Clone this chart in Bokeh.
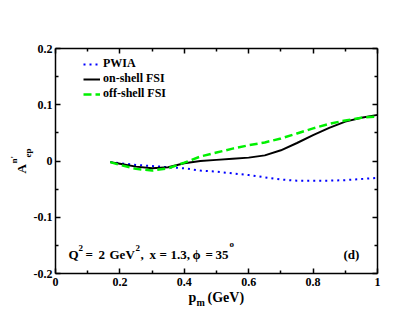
from bokeh.plotting import figure
from bokeh.models import Range1d, LinearAxis, FixedTicker, Label, Legend, LegendItem
from bokeh.embed import file_html
from bokeh.resources import INLINE

# ---- data ----
p_m = [0.17, 0.20, 0.25, 0.30, 0.35, 0.40, 0.45, 0.50, 0.55, 0.60,
       0.65, 0.70, 0.75, 0.80, 0.85, 0.90, 0.95, 1.00]
pwia = [-0.002, -0.004, -0.007, -0.009, -0.011, -0.013, -0.017, -0.019, -0.022, -0.025,
        -0.029, -0.033, -0.035, -0.035, -0.035, -0.034, -0.032, -0.030]
on_shell = [-0.002, -0.005, -0.010, -0.013, -0.011, -0.004, 0.000, 0.002, 0.004, 0.006,
            0.010, 0.019, 0.032, 0.046, 0.059, 0.070, 0.077, 0.082]
off_shell = [-0.002, -0.007, -0.014, -0.017, -0.013, -0.003, 0.008, 0.015, 0.022, 0.028,
             0.033, 0.040, 0.049, 0.058, 0.066, 0.072, 0.077, 0.079]

legend_labels = ["PWIA", "on-shell FSI", "off-shell FSI"]
x_ticks = [0, 0.2, 0.4, 0.6, 0.8, 1.0]
x_tick_labels = ["0", "0.2", "0.4", "0.6", "0.8", "1"]
x_minor = [0.1, 0.3, 0.5, 0.7, 0.9]
y_ticks = [-0.2, -0.1, 0, 0.1, 0.2]
y_tick_labels = ["-0.2", "-0.1", "0", "0.1", "0.2"]
y_minor = [-0.15, -0.05, 0.05, 0.15]

FONT = "Liberation Serif"

# ---- layout (canvas px) ----
W, H = 405, 310
FL, FT, FR, FB = 55, 48, 377, 273   # frame edges
X0, X1, Y0, Y1 = 0.0, 1.0, -0.2, 0.2

p = figure(width=W, height=H, output_backend="svg", toolbar_location=None,
           x_range=Range1d(X0, X1), y_range=Range1d(Y0, Y1),
           x_axis_location=None, y_axis_location=None,
           min_border_left=FL, min_border_right=W - FR,
           min_border_top=FT, min_border_bottom=H - FB)
p.grid.visible = False
p.outline_line_color = None
p.background_fill_color = "white"
p.border_fill_color = "white"


def style_axis(ax, tick_len, line=True):
    ax.axis_line_color = "black" if line else None
    ax.axis_line_width = 1.5
    ax.major_tick_in = tick_len
    ax.major_tick_out = 0
    ax.minor_tick_in = tick_len
    ax.minor_tick_out = 0
    ax.major_tick_line_width = 1.5
    ax.minor_tick_line_width = 1.5
    ax.major_tick_line_color = "black"
    ax.minor_tick_line_color = "black"
    ax.major_label_text_font = FONT
    ax.major_label_text_font_style = "bold"
    ax.major_label_text_color = "black"
    ax.major_label_text_font_size = "12px"
    return ax


# labelled axes (bottom, left)
bx = style_axis(LinearAxis(ticker=FixedTicker(ticks=x_ticks, minor_ticks=x_minor)), 5)
bx.minor_tick_in = 3
bx.major_label_overrides = dict(zip(x_ticks, x_tick_labels))
bx.major_label_standoff = 4
p.add_layout(bx, "below")

ly = style_axis(LinearAxis(ticker=FixedTicker(ticks=y_ticks, minor_ticks=y_minor)), 5)
ly.minor_tick_in = 3
ly.major_label_overrides = dict(zip(y_ticks, y_tick_labels))
ly.major_label_standoff = 3
p.add_layout(ly, "left")

# mirrored, unlabelled axes (top, right): tick marks only
p.add_layout(style_axis(LinearAxis(ticker=FixedTicker(ticks=[], minor_ticks=x_ticks)), 5), "above")
p.add_layout(style_axis(LinearAxis(ticker=FixedTicker(ticks=[], minor_ticks=x_minor)), 3, False), "above")
p.add_layout(style_axis(LinearAxis(ticker=FixedTicker(ticks=[], minor_ticks=y_ticks)), 5), "right")
p.add_layout(style_axis(LinearAxis(ticker=FixedTicker(ticks=[], minor_ticks=y_minor)), 3, False), "right")

r_pwia = p.line(p_m, pwia, line_color="#0000ff", line_width=2, line_dash="2 4")
r_on = p.line(p_m, on_shell, line_color="black", line_width=2)
r_off = p.line(p_m, off_shell, line_color="#00f000", line_width=2.5, line_dash="8 4")

legend = Legend(items=[LegendItem(label=legend_labels[0], renderers=[r_pwia]),
                       LegendItem(label=legend_labels[1], renderers=[r_on]),
                       LegendItem(label=legend_labels[2], renderers=[r_off])],
                location=(28, 172), padding=0, margin=0, spacing=0,
                glyph_width=17, glyph_height=12, label_height=12, label_standoff=3,
                label_text_font=FONT, label_text_font_style="bold",
                label_text_font_size="12px", label_text_color="black",
                border_line_alpha=0, background_fill_alpha=0)
p.add_layout(legend)


def dx(px):
    return X0 + (px - FL) / (FR - FL) * (X1 - X0)


def dy(py):
    return Y1 - (py - FT) / (FB - FT) * (Y1 - Y0)


def lab(px, py, text, size, angle=0.0, place="center"):
    p.add_layout(Label(x=dx(px), y=dy(py), text=text, angle=angle,
                       text_font=FONT, text_font_style="bold",
                       text_font_size=size, text_color="black",
                       text_align="left", text_baseline="alphabetic"), place)


# annotation inside the frame
lab(68, 254, "Q", "13px")
lab(78, 247, "2", "9px")
lab(85, 254, "=", "13px")
lab(98, 254, "2", "13px")
lab(109, 254, "GeV", "13px")
lab(135, 247, "2", "9px")
lab(140, 254, ",", "13px")
lab(149, 254, "x", "13px")
lab(159, 254, "=", "13px")
lab(170, 254, "1.3,", "13px")
lab(192, 254, "\u03d5", "13px")
lab(205, 254, "=", "13px")
lab(215, 254, "35", "13px")
lab(229, 243, "o", "9px")
lab(343, 254, "(d)", "13px")

# x axis label (outside the frame: hosted in side panels, placed by data coords)
lab(188, 297, "p", "14px", place="below")
lab(196, 302, "m", "10px", place="right")
lab(207, 297, "(GeV)", "14px", place="above")

# y axis label (rotated)
ang = 3.141592653589793 / 2
lab(21, 173, "A", "13px", ang, place="left")
lab(13, 163, "n'", "9px", ang, place="right")
lab(27, 157, "ep", "9px", ang, place="left")

open("out.html", "w").write(file_html(p, INLINE))
